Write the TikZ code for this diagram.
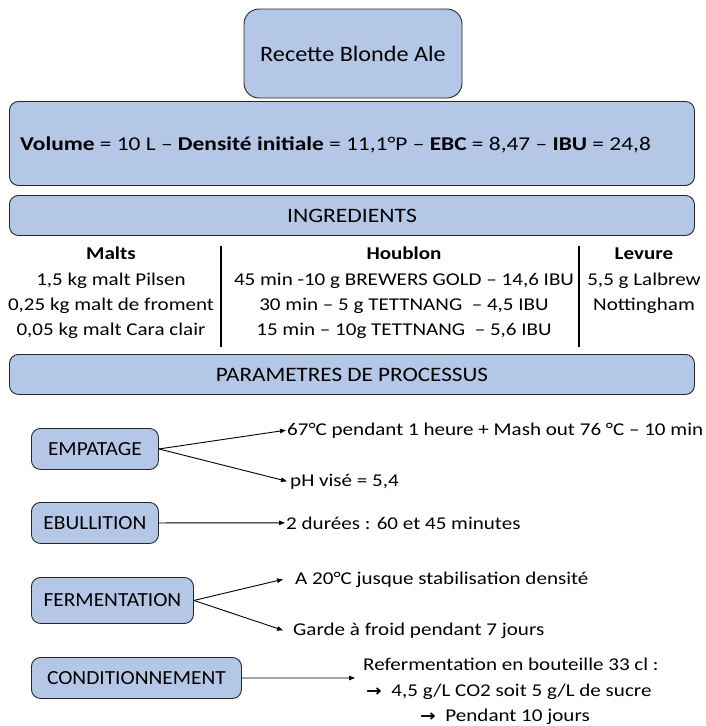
\documentclass[tikz,border=0pt]{standalone}
\usepackage{fontspec}
\setmainfont{Carlito}
\newfontfamily\arrowfont{DejaVu Sans}
\usetikzlibrary{arrows.meta}
\definecolor{boxblue}{HTML}{B4C7E7}
\newcommand{\sx}[2][1.17]{\scalebox{#1}[1]{#2}}
\begin{document}
\begin{tikzpicture}[x=1pt,y=-1pt,
  box/.style={draw=black!85, fill=boxblue, rounded corners=9pt, line width=0.9pt, inner sep=0pt},
  arr/.style={-{Triangle[length=6pt,width=4.5pt]}, line width=0.9pt},
  txt/.style={inner sep=0pt, font=\fontsize{18}{22}\selectfont},
  lbl/.style={txt, anchor=base west},
  col/.style={txt, anchor=base},
  pbox/.style={box, minimum height=41pt, anchor=north west, font=\fontsize{20}{22}\selectfont}]
\useasboundingbox (0,0) rectangle (706,726);
% header
\node[box, minimum width=218pt, minimum height=89pt, rounded corners=15pt, font=\fontsize{22}{24}\selectfont] (title) at (353,53.5) {\sx[1.1]{Recette Blonde Ale}};
\node[box, minimum width=685pt, minimum height=84pt, anchor=north west] (vol) at (9,101) {};
\node[txt, anchor=base west, font=\fontsize{19.5}{22}\selectfont] (voltxt) at (20,150) {\sx[1.2]{\textbf{Volume} = 10 L -- \textbf{Densité initiale} = 11,1°P -- \textbf{EBC} = 8,47 -- \textbf{IBU} = 24,8}};
\node[box, minimum width=685pt, minimum height=40pt, anchor=north west, font=\fontsize{20.5}{22}\selectfont] (ingr) at (9,195) {\sx[1.15]{INGREDIENTS}};
% columns
\node[col, font=\fontsize{18}{22}\selectfont\bfseries] (m0) at (111,259) {\sx{Malts}};
\node[col] (m1) at (111,285) {\sx{1,5 kg malt Pilsen}};
\node[col] (m2) at (111,310) {\sx{0,25 kg malt de froment}};
\node[col] (m3) at (111,335) {\sx{0,05 kg malt Cara clair}};
\node[col, font=\fontsize{18}{22}\selectfont\bfseries] (h0) at (404,259) {\sx{Houblon}};
\node[col] (h1) at (404,285) {\sx{45 min -10 g BREWERS GOLD -- 14,6 IBU}};
\node[col] (h2) at (404,310) {\sx{30 min -- 5 g TETTNANG~ -- 4,5 IBU}};
\node[col] (h3) at (404,335) {\sx{15 min -- 10g TETTNANG~ -- 5,6 IBU}};
\node[col, font=\fontsize{18}{22}\selectfont\bfseries] (l0) at (644,259) {\sx{Levure}};
\node[col] (l1) at (644,285) {\sx{5,5 g Lalbrew}};
\node[col] (l2) at (644,310) {\sx{Nottingham}};
\coordinate (v1t) at (221,246); \coordinate (v1b) at (221,347);
\coordinate (v2t) at (579,246); \coordinate (v2b) at (579,347);
\draw[line width=1.2pt] (v1t) -- (v1b);
\draw[line width=1.2pt] (v2t) -- (v2b);
\node[box, minimum width=685pt, minimum height=40pt, anchor=north west, font=\fontsize{20.5}{22}\selectfont] (param) at (9,354) {\sx[1.13]{PARAMETRES DE PROCESSUS}};
% process
\node[pbox, minimum width=127pt] (emp) at (31,428) {\sx[1.07]{EMPATAGE}};
\node[pbox, minimum width=127pt] (ebu) at (31,502) {\sx[1.07]{EBULLITION}};
\node[pbox, minimum width=162pt, minimum height=46pt] (fer) at (31,577) {\sx[1.07]{FERMENTATION}};
\node[pbox, minimum width=210pt] (con) at (31,657) {\sx[1.07]{CONDITIONNEMENT}};
\node[lbl] (e1) at (287,435) {\sx{67°C pendant 1 heure + Mash out 76 °C -- 10 min}};
\node[lbl] (e2) at (290,486) {\sx{pH visé = 5,4}};
\node[lbl] (b1) at (286,529) {\sx{2 durées : 60 et 45 minutes}};
\node[lbl] (f1) at (295,584) {\sx{A 20°C jusque stabilisation densité}};
\node[lbl] (f2) at (293,635) {\sx{Garde à froid pendant 7 jours}};
\node[lbl] (c1) at (363,670) {\sx{Refermentation en bouteille 33 cl :}};
\node[lbl] (c2) at (366,696) {\sx{{\arrowfont\bfseries\fontsize{16}{20}\selectfont →}\ \ 4,5 g/L CO2 soit 5 g/L de sucre}};
\node[lbl] (c3) at (420,721) {\sx{{\arrowfont\bfseries\fontsize{16}{20}\selectfont →}\ \ Pendant 10 jours}};
\coordinate (ce) at (355,678);
\draw[arr] (emp.east) -- ([xshift=-1pt]e1.west);
\draw[arr] (emp.east) -- ([xshift=-3pt]e2.west);
\draw[arr] (ebu.east) -- ([xshift=-1pt]b1.west);
\draw[arr] (fer.east) -- ([xshift=-12pt]f1.west);
\draw[arr] (fer.east) -- ([xshift=-10pt]f2.west);
\draw[arr] (con.east) -- (ce);
\end{tikzpicture}
\end{document}
